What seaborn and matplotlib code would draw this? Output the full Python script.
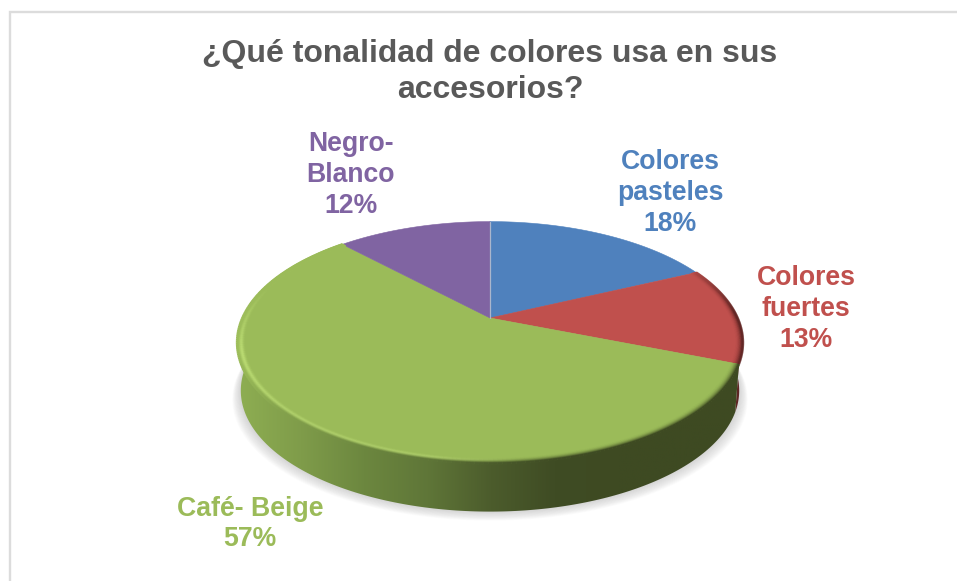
import numpy as np
import matplotlib.pyplot as plt
import seaborn as sns
from matplotlib.collections import LineCollection
from matplotlib.colors import to_rgb
from matplotlib.patches import Polygon

categories = ["Colores\npasteles", "Colores\nfuertes", "Café- Beige", "Negro-\nBlanco"]
percentages = [18, 13, 57, 12]
slice_colors = ["#4f81bd", "#c0504d", "#9bbb59", "#8064a2"]
title = "¿Qué tonalidad de colores usa en sus\naccesorios?"

sns.set_theme(style="white")
plt.rcParams["font.family"] = ["Liberation Sans", "DejaVu Sans"]

# geometry of the tilted disc, in pixels of the reference
CX, CY = 490, 318
K, A, B = 0.2033, 116, 247.7
DEPTH = 48


def project(x, y, scale=1.0, drop=0.0):
    # perspective: the far edge of the disc comes out smaller than the near edge
    d = 1 + K * y
    return CX + B * x / d * scale, CY - A * y / d + drop


def arc(theta1, theta2, r=1.0, n=240):
    t = np.radians(np.linspace(theta1, theta2, n))
    return r * np.cos(t), r * np.sin(t), np.sin(t)


fig = plt.figure(figsize=(9.57, 5.81), dpi=100, facecolor="white")
ax = fig.add_axes([0, 0, 1, 1])

# the pie works out the slice angles, the wedges are then redrawn tilted
wedges, _ = ax.pie(percentages, startangle=90, counterclock=False, radius=1)
angles = [(w.theta1, w.theta2) for w in wedges]
for w in wedges:
    w.remove()

side_cmap = sns.blend_palette(
    ["#8eae52", "#7f9c4a", "#6c873f", "#5f7638", "#4c5c2c", "#3f4c24", "#3e4a22", "#3e4a22", "#3e4a22"],
    n_colors=256, as_cmap=True)
X0, X1 = 237, 745

# soft shadow under the disc
x, y, _ = arc(0, 360)
for i in range(1, 13):
    px, py = project(x, y, scale=0.985 + i * 0.0028, drop=DEPTH + i * 0.75)
    ax.add_patch(Polygon(np.c_[px, py], closed=True, fc="#808080", ec="none", alpha=0.028, zorder=1))

# side wall: dark red sliver, then the green wall with its horizontal gradient
for idx in (1, 2):
    x, y, _ = arc(*angles[idx])
    tx, ty = project(x, y)
    bx, by = project(x, y, scale=0.985, drop=DEPTH)
    wall = np.r_[np.c_[tx, ty], np.c_[bx, by][::-1]]
    if idx == 1:
        ax.add_patch(Polygon(wall, closed=True, fc="#5e2624", ec="none", zorder=2))
    else:
        im = ax.imshow(np.linspace(0, 1, 256)[None, :], cmap=side_cmap, aspect="auto",
                       extent=(X0, X1, 520, 330), zorder=3)
        clip = Polygon(wall, closed=True, transform=ax.transData, fc="none", ec="none")
        ax.add_patch(clip)
        im.set_clip_path(clip)

# top face
for (t1, t2), color in zip(angles, slice_colors):
    x, y, _ = arc(t1, t2)
    px, py = project(np.r_[0, x], np.r_[0, y])
    ax.add_patch(Polygon(np.c_[px, py], closed=True, fc=color, ec=color, lw=0.4, zorder=4))

# pale seam where the first and last slices meet
sx, sy = project(np.array([0.0, 0.0]), np.array([0.0, 1.0]))
ax.plot(sx, sy, color="#aab6cc", lw=0.9, zorder=5)

# bevel on the near rim: highlight on the left, dark roll-off on the right
for idx in (1, 2):
    base = np.array(to_rgb(slice_colors[idx]))
    for r in np.linspace(0.972, 1.0, 14):
        x, y, s = arc(*angles[idx], r=r)
        px, py = project(x, y)
        pts = np.c_[px, py]
        segs = np.stack([pts[:-1], pts[1:]], axis=1)
        mx = (px[:-1] + px[1:]) / 2
        ms = (s[:-1] + s[1:]) / 2
        u = (r - 0.972) / 0.028
        # left half only rolls off along the very front, right half sooner
        front = np.where(mx < 490, np.clip((-0.25 - ms) / 0.45, 0, 1), np.clip((0.55 - ms) / 0.5, 0, 1))[:, None]
        if idx == 2:
            dark = np.array(side_cmap(np.clip((mx - X0) / (X1 - X0), 0, 1)))[:, :3]
        else:
            dark = np.tile(to_rgb("#5e2624"), (len(mx), 1))
        light = np.clip((520 - mx) / 90, 0, 1)[:, None] * (1 if idx == 2 else 0)
        light = light * np.clip((0.3 - ms) / 0.6, 0.03, 1)[:, None]
        glow = np.exp(-((u - 0.55) / 0.3) ** 2) * 0.8
        colors = base + (np.array(to_rgb("#c4e57a")) - base) * light * glow
        colors = colors + (dark - colors) * front * u ** 2.2
        ax.add_collection(LineCollection(segs, colors=np.clip(colors, 0, 1), linewidths=1.7,
                                         capstyle="butt", zorder=6))

# chart frame, only top and left are visible in the crop
ax.plot([9.5, 9.5, 957], [581, 11.5, 11.5], color="#dcdcdc", lw=1.7, zorder=0, solid_joinstyle="miter")

ax.text(490, 72, title, ha="center", va="center", fontsize=23, fontweight="bold",
        color="#595959", linespacing=1.24, zorder=8)

label_pos = [(670, 193), (806, 309), (250, 524), (351, 175)]
for cat, pct, color, (lx, ly) in zip(categories, percentages, slice_colors, label_pos):
    ax.text(lx, ly, f"{cat}\n{pct}%", ha="center", va="center", fontsize=19.2, fontweight="bold",
            color=color, linespacing=1.24, zorder=8)

ax.set_aspect("auto")
ax.set_xlim(0, 957)
ax.set_ylim(581, 0)
ax.axis("off")

fig.savefig("out.png", dpi=100, facecolor="white")
